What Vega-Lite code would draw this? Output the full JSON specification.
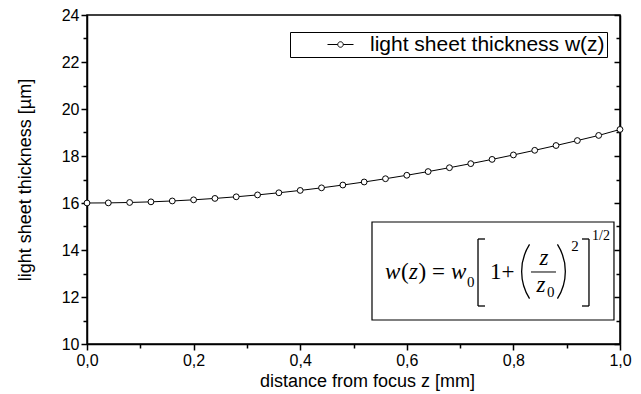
{
  "$schema": "https://vega.github.io/schema/vega-lite/v6.json",
  "width": 533,
  "height": 329,
  "autosize": {"type": "none"},
  "padding": {"left": 87, "top": 15, "right": 21, "bottom": 50},
  "background": "white",
  "config": {
    "view": {"stroke": "black", "strokeWidth": 1.5},
    "font": "Liberation Sans",
    "axis": {
      "domainColor": "black", "domainWidth": 1.5, "tickColor": "black", "tickWidth": 1.5,
      "labelColor": "black", "titleColor": "black", "labelFont": "Liberation Sans", "titleFont": "Liberation Sans",
      "labelFontSize": 16, "titleFontSize": 18, "titleFontWeight": "normal", "grid": false, "labelOverlap": false, "labelFlush": false
    }
  },
  "datasets": {
    "curve": [
      {"z": 0.00, "w": 16.000, "series": "light sheet thickness w(z)"},
      {"z": 0.04, "w": 16.005, "series": "light sheet thickness w(z)"},
      {"z": 0.08, "w": 16.022, "series": "light sheet thickness w(z)"},
      {"z": 0.12, "w": 16.049, "series": "light sheet thickness w(z)"},
      {"z": 0.16, "w": 16.087, "series": "light sheet thickness w(z)"},
      {"z": 0.20, "w": 16.135, "series": "light sheet thickness w(z)"},
      {"z": 0.24, "w": 16.195, "series": "light sheet thickness w(z)"},
      {"z": 0.28, "w": 16.264, "series": "light sheet thickness w(z)"},
      {"z": 0.32, "w": 16.344, "series": "light sheet thickness w(z)"},
      {"z": 0.36, "w": 16.435, "series": "light sheet thickness w(z)"},
      {"z": 0.40, "w": 16.535, "series": "light sheet thickness w(z)"},
      {"z": 0.44, "w": 16.645, "series": "light sheet thickness w(z)"},
      {"z": 0.48, "w": 16.765, "series": "light sheet thickness w(z)"},
      {"z": 0.52, "w": 16.894, "series": "light sheet thickness w(z)"},
      {"z": 0.56, "w": 17.033, "series": "light sheet thickness w(z)"},
      {"z": 0.60, "w": 17.180, "series": "light sheet thickness w(z)"},
      {"z": 0.64, "w": 17.337, "series": "light sheet thickness w(z)"},
      {"z": 0.68, "w": 17.502, "series": "light sheet thickness w(z)"},
      {"z": 0.72, "w": 17.675, "series": "light sheet thickness w(z)"},
      {"z": 0.76, "w": 17.856, "series": "light sheet thickness w(z)"},
      {"z": 0.80, "w": 18.045, "series": "light sheet thickness w(z)"},
      {"z": 0.84, "w": 18.242, "series": "light sheet thickness w(z)"},
      {"z": 0.88, "w": 18.446, "series": "light sheet thickness w(z)"},
      {"z": 0.92, "w": 18.657, "series": "light sheet thickness w(z)"},
      {"z": 0.96, "w": 18.875, "series": "light sheet thickness w(z)"},
      {"z": 1.00, "w": 19.130, "series": "light sheet thickness w(z)"}
    ]
  },
  "resolve": {"axis": {"x": "independent", "y": "independent"}},
  "layer": [
    {
      "data": {"name": "curve"},
      "mark": {"type": "line", "strokeWidth": 1},
      "encoding": {
        "x": {
          "field": "z", "type": "quantitative",
          "scale": {"domain": [0, 1], "nice": false, "zero": false},
          "axis": {
            "orient": "bottom",
            "values": [0, 0.1, 0.2, 0.3, 0.4, 0.5, 0.6, 0.7, 0.8, 0.9, 1.0],
            "labelExpr": "round(datum.value*10) % 2 === 0 ? replace(format(datum.value, '.1f'), '.', ',') : ''",
            "tickSize": {"condition": {"test": "round(datum.value*10) % 2 === 0", "value": 6}, "value": 4},
            "labelPadding": 2,
            "title": "distance from focus z [mm]",
            "titleX": 280,
            "titlePadding": 4
          }
        },
        "y": {
          "field": "w", "type": "quantitative",
          "scale": {"domain": [10, 24], "nice": false, "zero": false},
          "axis": {
            "orient": "left",
            "values": [10, 11, 12, 13, 14, 15, 16, 17, 18, 19, 20, 21, 22, 23, 24],
            "labelExpr": "datum.value % 2 === 0 ? datum.label : ''",
            "tickSize": {"condition": {"test": "datum.value % 2 === 0", "value": 6}, "value": 4},
            "labelPadding": 2,
            "title": "light sheet thickness [µm]",
            "titlePadding": 27
          }
        },
        "color": {
          "field": "series", "type": "nominal",
          "scale": {"range": ["black"]},
          "legend": {
            "orient": "none", "legendX": 203, "legendY": 17,
            "title": null,
            "strokeColor": "black", "fillColor": "white", "padding": 2,
            "symbolType": "M-2.6,0L-0.55,0M0.55,0L2.6,0M0.55,0A0.55,0.55,0,1,1,-0.55,0A0.55,0.55,0,1,1,0.55,0",
            "symbolSize": 100, "symbolStrokeWidth": 1, "symbolFillColor": "white", "symbolStrokeColor": "black",
            "symbolOffset": 38, "labelOffset": 19, "labelLimit": 0,
            "labelFontSize": 21, "labelFont": "Liberation Sans", "labelColor": "black"
          }
        }
      }
    },
    {
      "data": {"name": "curve"},
      "mark": {"type": "point", "shape": "circle", "filled": true, "fill": "white", "stroke": "black", "strokeWidth": 1, "size": 34, "opacity": 1},
      "encoding": {
        "x": {"field": "z", "type": "quantitative", "axis": null},
        "y": {
          "field": "w", "type": "quantitative",
          "axis": {
            "orient": "right",
            "values": [10, 11, 12, 13, 14, 15, 16, 17, 18, 19, 20, 21, 22, 23, 24],
            "labels": false,
            "tickSize": {"condition": {"test": "datum.value % 2 === 0", "value": -6}, "value": -4},
            "title": null
          }
        }
      }
    },
    {
      "data": {"values": [{"item": "formula box"}]},
      "mark": {"type": "rect", "fill": "white", "stroke": "black", "strokeWidth": 1.2},
      "encoding": {
        "x": {"datum": 0.5347, "axis": null}, "x2": {"datum": 0.9887},
        "y": {"datum": 15.191, "axis": null}, "y2": {"datum": 11.021}
      }
    },
    {
      "data": {"values": [{"t": "w"}]},
      "mark": {"type": "text", "font": "Liberation Serif", "fontStyle": "italic", "fontSize": 23, "align": "left", "baseline": "alphabetic", "color": "black"},
      "encoding": {"x": {"datum": 0.5591, "axis": null}, "y": {"datum": 12.766, "axis": null}, "text": {"field": "t"}}
    },
    {
      "data": {"values": [{"t": "("}]},
      "mark": {"type": "text", "font": "Liberation Serif", "fontSize": 23, "align": "left", "baseline": "alphabetic", "color": "black"},
      "encoding": {"x": {"datum": 0.5891, "axis": null}, "y": {"datum": 12.766, "axis": null}, "text": {"field": "t"}}
    },
    {
      "data": {"values": [{"t": "z"}]},
      "mark": {"type": "text", "font": "Liberation Serif", "fontStyle": "italic", "fontSize": 23, "align": "left", "baseline": "alphabetic", "color": "black"},
      "encoding": {"x": {"datum": 0.6041, "axis": null}, "y": {"datum": 12.766, "axis": null}, "text": {"field": "t"}}
    },
    {
      "data": {"values": [{"t": ")"}]},
      "mark": {"type": "text", "font": "Liberation Serif", "fontSize": 23, "align": "left", "baseline": "alphabetic", "color": "black"},
      "encoding": {"x": {"datum": 0.6220, "axis": null}, "y": {"datum": 12.766, "axis": null}, "text": {"field": "t"}}
    },
    {
      "data": {"values": [{"t": "="}]},
      "mark": {"type": "text", "font": "Liberation Serif", "fontSize": 23, "align": "left", "baseline": "alphabetic", "color": "black"},
      "encoding": {"x": {"datum": 0.6473, "axis": null}, "y": {"datum": 12.766, "axis": null}, "text": {"field": "t"}}
    },
    {
      "data": {"values": [{"t": "w"}]},
      "mark": {"type": "text", "font": "Liberation Serif", "fontStyle": "italic", "fontSize": 23, "align": "left", "baseline": "alphabetic", "color": "black"},
      "encoding": {"x": {"datum": 0.6829, "axis": null}, "y": {"datum": 12.766, "axis": null}, "text": {"field": "t"}}
    },
    {
      "data": {"values": [{"t": "0"}]},
      "mark": {"type": "text", "font": "Liberation Serif", "fontSize": 15, "align": "left", "baseline": "alphabetic", "color": "black"},
      "encoding": {"x": {"datum": 0.7129, "axis": null}, "y": {"datum": 12.426, "axis": null}, "text": {"field": "t"}}
    },
    {
      "data": {"values": [{"t": "1+"}]},
      "mark": {"type": "text", "font": "Liberation Serif", "fontSize": 23, "align": "left", "baseline": "alphabetic", "color": "black"},
      "encoding": {"x": {"datum": 0.7561, "axis": null}, "y": {"datum": 12.766, "axis": null}, "text": {"field": "t"}}
    },
    {
      "data": {"values": [{"t": "z"}]},
      "mark": {"type": "text", "font": "Liberation Serif", "fontStyle": "italic", "fontSize": 23, "align": "center", "baseline": "alphabetic", "color": "black"},
      "encoding": {"x": {"datum": 0.8574, "axis": null}, "y": {"datum": 13.362, "axis": null}, "text": {"field": "t"}}
    },
    {
      "data": {"values": [{"t": "z"}]},
      "mark": {"type": "text", "font": "Liberation Serif", "fontStyle": "italic", "fontSize": 23, "align": "center", "baseline": "alphabetic", "color": "black"},
      "encoding": {"x": {"datum": 0.8518, "axis": null}, "y": {"datum": 12.213, "axis": null}, "text": {"field": "t"}}
    },
    {
      "data": {"values": [{"t": "0"}]},
      "mark": {"type": "text", "font": "Liberation Serif", "fontSize": 15, "align": "left", "baseline": "alphabetic", "color": "black"},
      "encoding": {"x": {"datum": 0.8630, "axis": null}, "y": {"datum": 12.0, "axis": null}, "text": {"field": "t"}}
    },
    {
      "data": {"values": [{"t": "2"}]},
      "mark": {"type": "text", "font": "Liberation Serif", "fontSize": 15, "align": "center", "baseline": "alphabetic", "color": "black"},
      "encoding": {"x": {"datum": 0.9156, "axis": null}, "y": {"datum": 13.957, "axis": null}, "text": {"field": "t"}}
    },
    {
      "data": {"values": [{"t": "1/2"}]},
      "mark": {"type": "text", "font": "Liberation Serif", "fontSize": 14, "align": "left", "baseline": "alphabetic", "color": "black"},
      "encoding": {"x": {"datum": 0.9475, "axis": null}, "y": {"datum": 14.426, "axis": null}, "text": {"field": "t"}}
    },
    {
      "data": {"values": [{"part": "fraction bar"}]},
      "mark": {"type": "rule", "stroke": "black", "strokeWidth": 1},
      "encoding": {"x": {"datum": 0.8330, "axis": null}, "x2": {"datum": 0.8799}, "y": {"datum": 13.064, "axis": null}}
    },
    {
      "data": {"values": [{"part": "left bracket"}]},
      "mark": {"type": "rule", "stroke": "black", "strokeWidth": 1.3},
      "encoding": {"x": {"datum": 0.7336, "axis": null}, "y": {"datum": 14.468, "axis": null}, "y2": {"datum": 11.617}}
    },
    {
      "data": {"values": [{"part": "left bracket top"}]},
      "mark": {"type": "rule", "stroke": "black", "strokeWidth": 1.3},
      "encoding": {"x": {"datum": 0.7336, "axis": null}, "x2": {"datum": 0.7467}, "y": {"datum": 14.468, "axis": null}}
    },
    {
      "data": {"values": [{"part": "left bracket bottom"}]},
      "mark": {"type": "rule", "stroke": "black", "strokeWidth": 1.3},
      "encoding": {"x": {"datum": 0.7336, "axis": null}, "x2": {"datum": 0.7467}, "y": {"datum": 11.617, "axis": null}}
    },
    {
      "data": {"values": [{"part": "right bracket"}]},
      "mark": {"type": "rule", "stroke": "black", "strokeWidth": 1.3},
      "encoding": {"x": {"datum": 0.9418, "axis": null}, "y": {"datum": 14.468, "axis": null}, "y2": {"datum": 11.617}}
    },
    {
      "data": {"values": [{"part": "right bracket top"}]},
      "mark": {"type": "rule", "stroke": "black", "strokeWidth": 1.3},
      "encoding": {"x": {"datum": 0.9287, "axis": null}, "x2": {"datum": 0.9418}, "y": {"datum": 14.468, "axis": null}}
    },
    {
      "data": {"values": [{"part": "right bracket bottom"}]},
      "mark": {"type": "rule", "stroke": "black", "strokeWidth": 1.3},
      "encoding": {"x": {"datum": 0.9287, "axis": null}, "x2": {"datum": 0.9418}, "y": {"datum": 11.617, "axis": null}}
    },
    {
      "data": {"values": [{"part": "left paren"}]},
      "mark": {"type": "arc", "theta": 4.146, "theta2": 5.278, "radius": 51.3, "radius2": 50.0, "fill": "black"},
      "encoding": {"x": {"datum": 0.9105, "axis": null}, "y": {"datum": 13.085, "axis": null}}
    },
    {
      "data": {"values": [{"part": "right paren"}]},
      "mark": {"type": "arc", "theta": 1.005, "theta2": 2.137, "radius": 51.3, "radius2": 50.0, "fill": "black"},
      "encoding": {"x": {"datum": 0.8024, "axis": null}, "y": {"datum": 13.085, "axis": null}}
    }
  ]
}
